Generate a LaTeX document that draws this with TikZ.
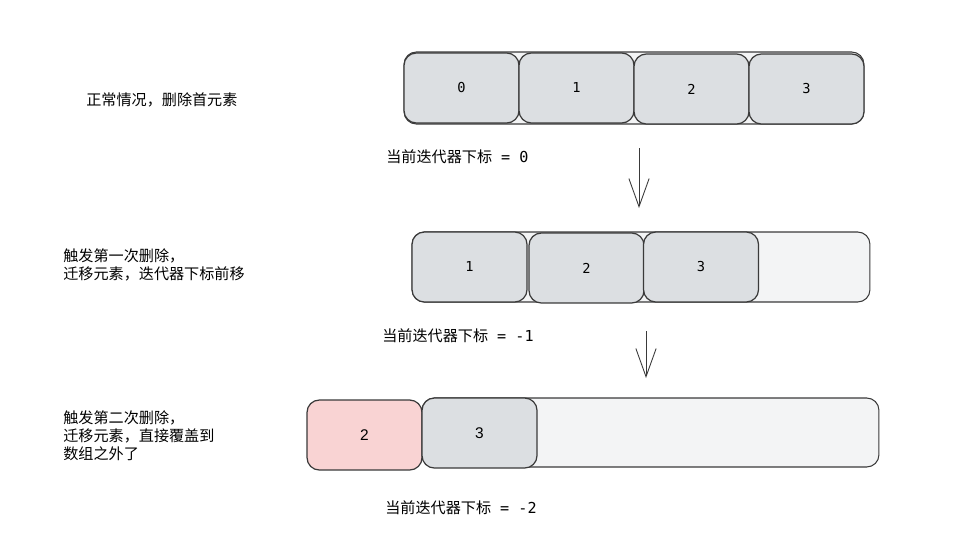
\documentclass[tikz,border=0pt]{standalone}
\usepackage{fontspec}
\setmainfont{Liberation Sans}
\setmonofont{DejaVu Sans Mono}
\newfontfamily\cjk{Noto Sans CJK SC}
\usetikzlibrary{positioning, arrows.meta}
\definecolor{cellgray}{HTML}{DCDFE2}
\definecolor{slotgray}{HTML}{F3F4F5}
\definecolor{cellred}{HTML}{F9D3D3}
\definecolor{edge}{HTML}{3A3A3A}

\begin{document}
\begin{tikzpicture}[x=0.02cm, y=-0.02cm,
  cell/.style={rectangle, rounded corners=7pt, draw=edge, fill=cellgray, line width=0.7pt, minimum width=2.3cm, minimum height=1.4cm, inner sep=0pt, font=\ttfamily\fontsize{7.8}{9}\selectfont},
  sanscell/.style={cell, font=\rmfamily\fontsize{8.8}{10}\selectfont},
  slot/.style={rectangle, rounded corners=7pt, draw=edge, fill=slotgray, line width=0.6pt, minimum height=1.4cm, inner sep=0pt},
  note/.style={anchor=west, align=left, inner sep=0pt, font=\cjk\fontsize{8.6}{10.2}\selectfont},
  flow/.style={draw=edge, line width=0.5pt, -{Straight Barb[length=16pt, width=11.5pt, line width=0.5pt]}}
]
\useasboundingbox (0,0) rectangle (962,544);

% Row 1: normal case
\node[slot, minimum width=9.2cm, minimum height=1.44cm] (slots1) at (634,88) {};
\node[cell] (r1c0) at (461.5,88) {0};
\node[cell] (r1c1) at (576.5,88) {1};
\node[cell] (r1c2) at (691.5,89) {2};
\node[cell] (r1c3) at (806.5,89) {3};
\node[note] (desc1) at (86,100) {正常情况，删除首元素};
\node[note, anchor=west] (idx1) at (386,157) {当前迭代器下标{\ttfamily\ = 0}};

% Row 2: first removal
\node[slot, minimum width=9.16cm] (slots2) at (641,267) {};
\node[cell] (r2c1) at (469.5,267) {1};
\node[cell] (r2c2) at (586.5,268) {2};
\node[cell] (r2c3) at (701,267) {3};
\node[note] (desc2) at (63,265) {触发第一次删除，\\迁移元素，迭代器下标前移};
\node[note] (idx2) at (382,336) {当前迭代器下标{\ttfamily\ = -1}};

% Row 3: second removal
\node[slot, minimum width=9.14cm, minimum height=1.38cm] (slots3) at (650.5,432.5) {};
\node[sanscell, fill=cellred] (r3c2) at (364.5,435) {2};
\node[sanscell] (r3c3) at (479.5,433) {3};
\node[note] (desc3) at (63,436) {触发第二次删除，\\迁移元素，直接覆盖到\\数组之外了};
\node[note] (idx3) at (385,508) {当前迭代器下标{\ttfamily\ = -2}};

% Arrows between rows
\coordinate (a1s) at (639,148);
\coordinate (a1e) at (639,208);
\coordinate (a2s) at (646,331);
\coordinate (a2e) at (646,378);
\draw[flow] (a1s) -- (a1e);
\draw[flow] (a2s) -- (a2e);

\end{tikzpicture}
\end{document}
